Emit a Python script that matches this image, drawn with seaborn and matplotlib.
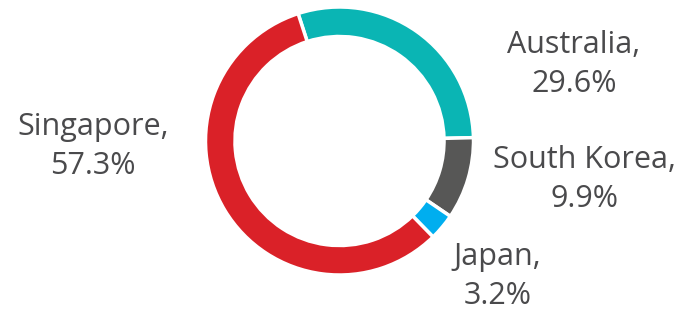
import matplotlib
matplotlib.use("Agg")
import matplotlib.pyplot as plt
import seaborn as sns

categories = ["Australia", "South Korea", "Japan", "Singapore"]
values = [29.6, 9.9, 3.2, 57.3]
colors = ["#0AB5B4", "#575756", "#00AEEF", "#DA2128"]
label_pos = [(1.75, 0.57), (1.83, -0.29), (1.18, -1.01), (-1.84, -0.04)]

sns.set_theme(style="white")
plt.rcParams['font.family'] = ['Open Sans', 'DejaVu Sans']

fig = plt.figure(figsize=(6.81, 3.13), dpi=100)
ax = fig.add_axes([0, 0, 1, 1])
wedges, _ = ax.pie(values, colors=colors, startangle=108, counterclock=False,
                   radius=1.0, wedgeprops=dict(width=0.22, edgecolor="white", linewidth=2.5))
for cat, v, (x, y) in zip(categories, values, label_pos):
    ax.text(x, y, f"{cat},\n{v:.1f}%", ha="center", va="center", fontsize=22,
            color="#4A4A4C", linespacing=1.4)
ax.set_xlim(-339.5/134, (681-339.5)/134)
ax.set_ylim(-172/134, 141/134)
ax.set_aspect("auto")
ax.axis("off")
fig.savefig("out.png", dpi=100)
